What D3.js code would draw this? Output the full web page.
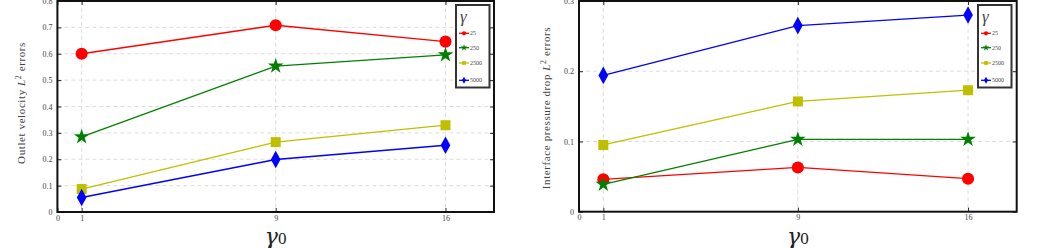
<!DOCTYPE html>
<html><head><meta charset="utf-8">
<script src="https://cdn.jsdelivr.net/npm/d3@7"></script>
<style>body{margin:0;background:#fff}svg{display:block}text{font-family:"Liberation Serif","DejaVu Serif",serif}</style>
</head><body>
<svg id="c" width="1039" height="248"></svg>
<script>
const gamma0 = [1, 9, 16];
const seriesNames = ["25", "250", "2500", "5000"];
const colors = ["#ff0000", "#008000", "#bfbf00", "#0000ff"];
const shapes = ["circle", "star", "square", "diamond"];
const xTicks = [0, 1, 9, 16];
// left panel: Outlet velocity L2 errors
const velocity25 = [0.60, 0.708, 0.646];
const velocity250 = [0.285, 0.553, 0.596];
const velocity2500 = [0.087, 0.265, 0.329];
const velocity5000 = [0.055, 0.199, 0.253];
const velocityTicks = [0, 0.1, 0.2, 0.3, 0.4, 0.5, 0.6, 0.7, 0.8];
// right panel: Interface pressure drop L2 errors
const pressure25 = [0.046, 0.063, 0.047];
const pressure250 = [0.039, 0.103, 0.103];
const pressure2500 = [0.095, 0.157, 0.173];
const pressure5000 = [0.194, 0.265, 0.280];
const pressureTicks = [0, 0.1, 0.2, 0.3];

const svg = d3.select("#c");

function markerPath(shape, size) {
  const map = {circle: d3.symbolCircle, star: d3.symbolStar, square: d3.symbolSquare, diamond: d3.symbolDiamond};
  return d3.symbol(map[shape], size)();
}
const markerSizes = {circle: 115, star: 75, square: 100, diamond: 90};

function panel(opt) {
  const g = svg.append("g");
  const x = d3.scaleLinear().domain([0, 18]).range([opt.x0, opt.x1]);
  const y = d3.scaleLinear().domain([0, opt.ymax]).range([opt.y1, opt.y0]);
  // grid
  g.append("g").selectAll("line").data(opt.yTicks.slice(1, -1)).join("line")
    .attr("x1", opt.x0).attr("x2", opt.x1).attr("y1", d => y(d)).attr("y2", d => y(d))
    .attr("stroke", "#d4d4d4").attr("stroke-width", 0.8).attr("stroke-dasharray", "4,3");
  g.append("g").selectAll("line").data(xTicks.slice(1)).join("line")
    .attr("x1", d => x(d)).attr("x2", d => x(d)).attr("y1", opt.y0).attr("y2", opt.y1)
    .attr("stroke", "#d4d4d4").attr("stroke-width", 0.8).attr("stroke-dasharray", "4,3");
  // axes
  g.append("g").attr("transform", `translate(0,${opt.y1})`)
    .call(d3.axisBottom(x).tickValues(xTicks).tickSize(-4).tickPadding(3));
  g.append("g").attr("transform", `translate(${opt.x0},0)`)
    .call(d3.axisLeft(y).tickValues(opt.yTicks).tickFormat(d => d === 0 ? "0" : d3.format(".1f")(d)).tickSize(-4).tickPadding(5));
  g.append("g").attr("transform", `translate(${opt.x1},0)`)
    .call(d3.axisRight(y).tickValues(opt.yTicks).tickFormat("").tickSize(-4));
  g.append("g").attr("transform", `translate(0,${opt.y0})`)
    .call(d3.axisTop(x).tickValues(xTicks).tickFormat("").tickSize(-4));
  g.selectAll(".domain").remove();
  g.selectAll(".tick line").attr("stroke", "#222");
  g.selectAll(".tick text").attr("font-size", 8).attr("fill", "#444")
    .attr("font-family", '"Liberation Serif",serif');
  // frame
  g.append("rect").attr("x", opt.x0).attr("y", opt.y0).attr("width", opt.x1 - opt.x0).attr("height", opt.y1 - opt.y0)
    .attr("fill", "none").attr("stroke", "#111").attr("stroke-width", 2);
  // series
  const line = d3.line().x((d, i) => x(gamma0[i])).y(d => y(d));
  opt.series.forEach((vals, si) => {
    g.append("path").attr("d", line(vals)).attr("fill", "none").attr("stroke", colors[si]).attr("stroke-width", 1.3);
    g.append("g").selectAll("path").data(vals).join("path")
      .attr("transform", (d, i) => `translate(${x(gamma0[i])},${y(d)})` + (shapes[si] === "diamond" ? " scale(0.95,1)" : ""))
      .attr("d", markerPath(shapes[si], markerSizes[shapes[si]]))
      .attr("fill", colors[si]);
  });
  // y label
  const yl = g.append("text").attr("transform", `translate(${opt.ylx},${opt.yly}) rotate(-90)`)
    .attr("text-anchor", "middle").attr("font-size", opt.ylfs).attr("fill", "#444").attr("letter-spacing", opt.ylls);
  yl.append("tspan").text(opt.ylabel + " ");
  yl.append("tspan").attr("font-style", "italic").text("L");
  yl.append("tspan").attr("font-size", opt.ylfs * 0.7).attr("dy", -4).text("2");
  yl.append("tspan").attr("dy", 4).text(" errors");
  // x label
  const xl = g.append("text").attr("x", x(9)).attr("y", 244).attr("text-anchor", "middle").attr("fill", "#222");
  xl.append("tspan").attr("font-size", 22).attr("font-style", "italic").attr("font-family", '"DejaVu Serif",serif').text("γ");
  xl.append("tspan").attr("font-size", 17).attr("font-family", '"Liberation Serif",serif').text("0");
  // legend
  const lg = g.append("g").attr("transform", `translate(${opt.lx},5)`);
  lg.append("rect").attr("width", 33.5).attr("height", 82.5).attr("fill", "#fff").attr("stroke", "#333").attr("stroke-width", 2);
  lg.append("text").attr("x", 4).attr("y", 17).attr("font-size", 17).attr("font-style", "italic").attr("fill", "#444").text("γ");
  seriesNames.forEach((n, i) => {
    const yy = [28.3, 42.7, 58, 75.3][i];
    lg.append("line").attr("x1", 3).attr("x2", 13).attr("y1", yy).attr("y2", yy).attr("stroke", colors[i]).attr("stroke-width", 1.3);
    lg.append("path").attr("transform", `translate(8,${yy})`).attr("d", markerPath(shapes[i], 14)).attr("fill", colors[i]);
    lg.append("text").attr("x", 14).attr("y", yy + 2).attr("font-size", 6).attr("fill", "#444").text(n);
  });
}

panel({x0: 57.4, x1: 494, y0: 1, y1: 212, ymax: 0.8, yTicks: velocityTicks,
  series: [velocity25, velocity250, velocity2500, velocity5000],
  ylabel: "Outlet velocity", ylx: 25, yly: 103, ylfs: 11, ylls: 0.6, lx: 456});
panel({x0: 579, x1: 1016.7, y0: 1, y1: 211.7, ymax: 0.3, yTicks: pressureTicks,
  series: [pressure25, pressure250, pressure2500, pressure5000],
  ylabel: "Interface pressure drop", ylx: 550, yly: 108, ylfs: 11, ylls: 0.6, lx: 978});
</script>
</body></html>
